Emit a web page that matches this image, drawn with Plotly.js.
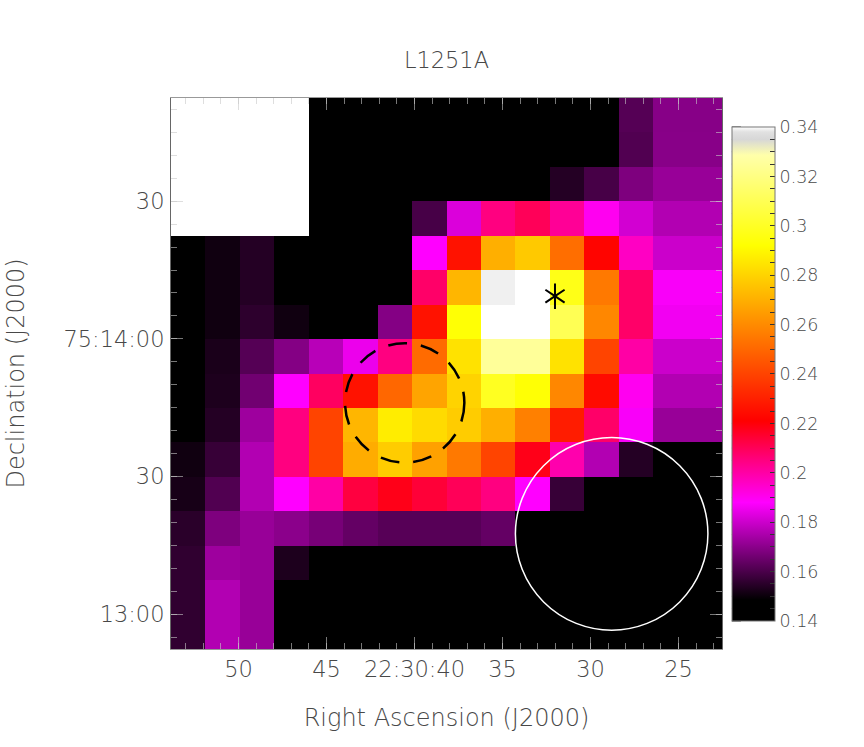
<!DOCTYPE html>
<html>
<head>
<meta charset="utf-8">
<script src="https://cdn.plot.ly/plotly-3.0.1.min.js"></script>
<style>html,body{margin:0;padding:0;background:#fff}</style>
</head>
<body>
<div id="chart" style="width:864px;height:747px"></div>
<script>
// pixel centres on the sky: RA seconds (of 22:30:xx), Dec arcsec from 75:14:00
var raCenters = [52.862,50.906,48.95,46.994,45.038,43.082,41.126,39.17,37.214,35.258,33.302,31.346,29.39,27.434,25.478,23.522];
var decCenters = [48.75,41.25,33.75,26.25,18.75,11.25,3.75,-3.75,-11.25,-18.75,-26.25,-33.75,-41.25,-48.75,-56.25,-63.75];

// flux, top row first, null = no data (white box)
var flux = [
  [null,null,null,null,.145,.145,.145,.145,.145,.145,.145,.145,.145,.1617,.1694,.1694],
  [null,null,null,null,.145,.145,.145,.145,.145,.145,.145,.145,.145,.161,.1695,.1695],
  [null,null,null,null,.145,.145,.145,.145,.145,.145,.145,.154,.1595,.168,.172,.172],
  [null,null,null,null,.145,.145,.145,.1595,.1825,.205,.21,.202,.19,.181,.176,.176],
  [.145,.151,.154,.145,.145,.145,.145,.188,.226,.27,.277,.252,.222,.196,.18,.18],
  [.145,.151,.154,.145,.145,.145,.145,.208,.272,.339,.34,.297,.255,.208,.187,.187],
  [.145,.151,.1555,.151,.145,.145,.169,.226,.293,.34,.34,.31,.259,.208,.186,.186],
  [.145,.1525,.1617,.169,.177,.185,.205,.251,.284,.325,.325,.284,.24,.2,.18,.18],
  [.145,.153,.166,.188,.209,.226,.25,.267,.28,.299,.293,.259,.224,.19,.176,.176],
  [.145,.154,.173,.205,.24,.272,.287,.282,.278,.27,.257,.229,.208,.187,.172,.172],
  [.151,.157,.176,.205,.24,.269,.278,.266,.255,.24,.218,.199,.176,.154,.145,.145],
  [.152,.161,.176,.188,.2,.213,.218,.214,.21,.205,.188,.157,.145,.145,.145,.145],
  [.155,.168,.172,.17,.167,.164,.162,.162,.162,.164,.145,.145,.145,.145,.145,.145],
  [.156,.173,.172,.153,.145,.145,.145,.145,.145,.145,.145,.145,.145,.145,.145,.145],
  [.156,.176,.172,.145,.145,.145,.145,.145,.145,.145,.145,.145,.145,.145,.145,.145],
  [.156,.176,.172,.145,.145,.145,.145,.145,.145,.145,.145,.145,.145,.145,.145,.145]
];

var xTickVals = [50,45,40,35,30,25];
var xTickText = ["50","45","22:30:40","35","30","25"];
var yTickVals = [30,0,-30,-60];
var yTickText = ["30","75:14:00","30","13:00"];

var cbTickVals = [];
var cbTickText = [];
for (var i = 0; i <= 40; i++) {
  var v = 0.14 + i*0.005;
  cbTickVals.push(+v.toFixed(3));
  cbTickText.push(i % 4 == 0 ? v.toFixed(2).replace(/0$/,"") : "");
}

// source position and the two beams
var starRa = [32.02];
var starDec = [9.3];
var beamBlack = {ra: 40.56, dec: -13.95, rRa: 3.39, rDec: 13.0};
var beamWhite = {ra: 28.8, dec: -42.5, rRa: 5.47, rDec: 21.0};

var inkFont = "DejaVu Sans";
var ink = "#484848";
var tick = "rgba(200,200,200,0.6)";
function txt(size) {
  return {family: inkFont, size: size, color: ink, weight: 200};
}

var heat = {
  type: "heatmap",
  x: raCenters,
  y: decCenters,
  z: flux,
  zmin: 0.14,
  zmax: 0.34,
  zsmooth: false,
  hoverongaps: false,
  colorscale: [
    [0, "rgb(0,0,0)"],
    [0.0425, "rgb(0,0,0)"],
    [0.24, "rgb(255,0,255)"],
    [0.325, "rgb(255,0,128)"],
    [0.405, "rgb(255,0,0)"],
    [0.585, "rgb(255,128,0)"],
    [0.76, "rgb(255,255,0)"],
    [0.943, "rgb(255,255,170)"],
    [0.975, "rgb(215,215,215)"],
    [0.99, "rgb(225,225,225)"],
    [1, "rgb(255,255,255)"]
  ],
  colorbar: {
    x: 1.018, xanchor: "left", xpad: 0,
    y: 0.9474, yanchor: "top", ypad: 0,
    len: 494, lenmode: "pixels",
    thickness: 43, thicknessmode: "pixels",
    tickmode: "array",
    tickvals: cbTickVals,
    ticktext: cbTickText,
    ticks: "inside",
    ticklen: 5,
    tickcolor: "#333",
    tickwidth: 1,
    tickfont: txt(17.5),
    outlinecolor: "#777",
    outlinewidth: 1
  }
};

var star = {
  type: "scatter",
  mode: "markers",
  x: starRa.concat(starRa),
  y: starDec.concat(starDec),
  marker: {
    symbol: ["y-up-open", "y-down-open"],
    size: 16,
    color: "black",
    line: {color: "black", width: 2}
  },
  showlegend: false,
  hoverinfo: "skip"
};

// left side ticks of the colour bar, plotly only draws the right side
var cbShapes = [];
for (var j = 0; j < cbTickVals.length; j++) {
  var py = (649 - (621 - (cbTickVals[j]-0.14)/0.2*494)) / 551;
  cbShapes.push({
    type: "line", xref: "paper", yref: "paper",
    x0: 1.018, x1: 1.018 + (j % 4 == 0 ? 9 : 5)/551,
    y0: py, y1: py,
    line: {color: "#333", width: 1}
  });
}

var layout = {
  width: 864,
  height: 747,
  margin: {l: 171, r: 142, t: 98, b: 98, pad: 0},
  paper_bgcolor: "white",
  plot_bgcolor: "white",
  showlegend: false,
  title: {
    text: "L1251A",
    font: txt(22.5),
    xref: "paper", x: 0.5, xanchor: "center",
    yref: "container", y: 0.92, yanchor: "middle"
  },
  xaxis: {
    range: [53.84, 22.53],
    showgrid: false, zeroline: false,
    showline: true, linecolor: "#999", linewidth: 1, mirror: "allticks",
    ticks: "inside", ticklen: 12, tickwidth: 1, tickcolor: tick,
    tickmode: "array", tickvals: xTickVals, ticktext: xTickText,
    minor: {tickmode: "linear", tick0: 0, dtick: 1, ticks: "inside", ticklen: 6, tickwidth: 1, tickcolor: tick, showgrid: false},
    tickfont: txt(22.5),
    ticklabelstandoff: 0,
    title: {text: "Right Ascension (J2000)", font: txt(24), standoff: 28}
  },
  yaxis: {
    range: [-67.6, 52.5],
    showgrid: false, zeroline: false,
    showline: true, linecolor: "#666", linewidth: 1, mirror: "allticks",
    ticks: "inside", ticklen: 12, tickwidth: 1, tickcolor: tick,
    tickmode: "array", tickvals: yTickVals, ticktext: yTickText,
    minor: {tickmode: "linear", tick0: 0, dtick: 5, ticks: "inside", ticklen: 6, tickwidth: 1, tickcolor: tick, showgrid: false},
    tickfont: txt(22.5),
    ticklabelstandoff: 1,
    title: {text: "Declination (J2000)", font: txt(24), standoff: 32}
  },
  shapes: [
    {
      type: "circle", xref: "x", yref: "y",
      x0: beamBlack.ra + beamBlack.rRa, x1: beamBlack.ra - beamBlack.rRa,
      y0: beamBlack.dec - beamBlack.rDec, y1: beamBlack.dec + beamBlack.rDec,
      line: {color: "black", width: 2.5, dash: "19px,14px"}
    },
    {
      type: "circle", xref: "x", yref: "y",
      x0: beamWhite.ra + beamWhite.rRa, x1: beamWhite.ra - beamWhite.rRa,
      y0: beamWhite.dec - beamWhite.rDec, y1: beamWhite.dec + beamWhite.rDec,
      line: {color: "white", width: 1.5}
    }
  ].concat(cbShapes)
};

Plotly.newPlot("chart", [heat, star], layout, {displayModeBar: false, responsive: false});
</script>
</body>
</html>
